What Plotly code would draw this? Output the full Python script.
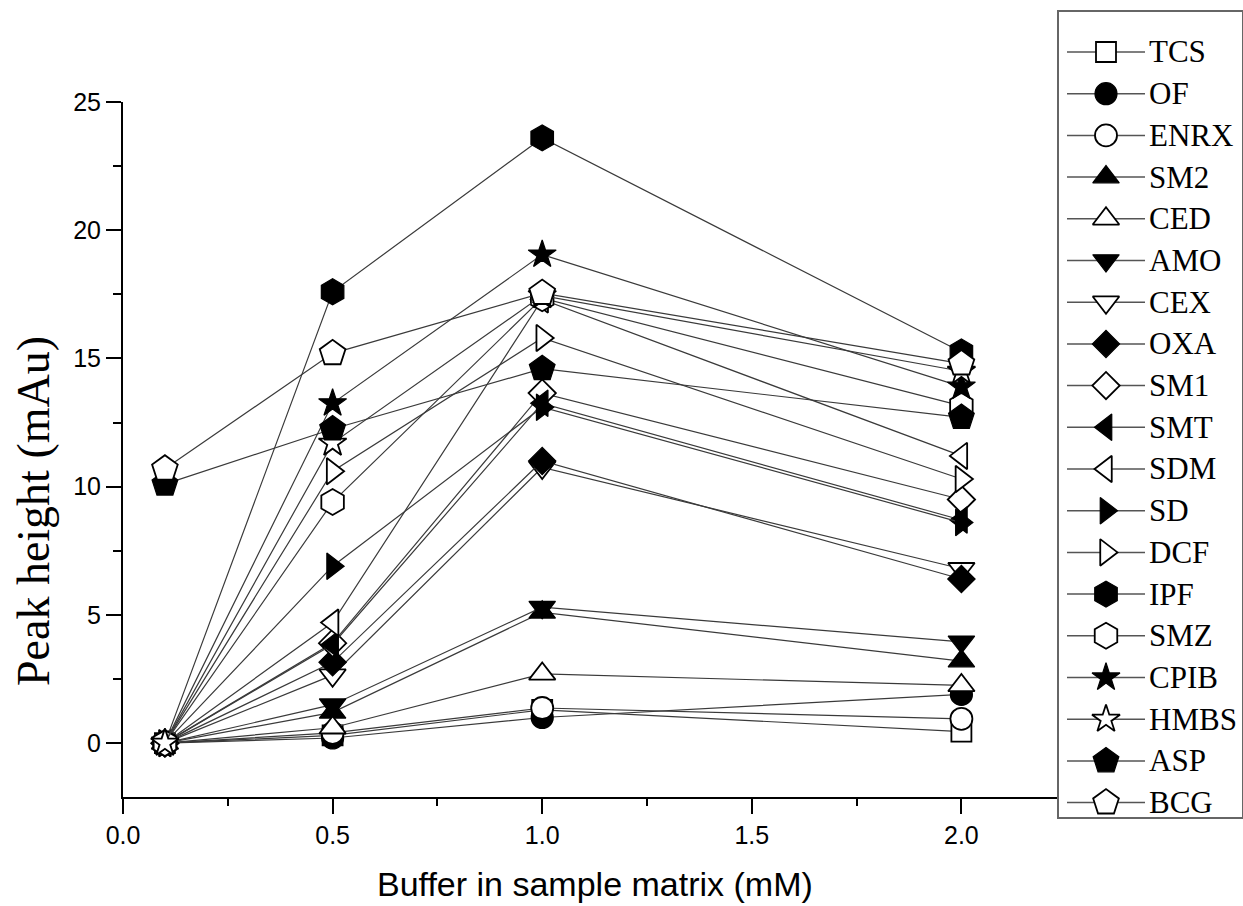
import plotly.graph_objects as go

# ---------------- data ----------------
buffer_mM = [0.1, 0.5, 1.0, 2.0]

series_names = ["TCS", "OF", "ENRX", "SM2", "CED", "AMO", "CEX", "OXA", "SM1",
                "SMT", "SDM", "SD", "DCF", "IPF", "SMZ", "CPIB", "HMBS", "ASP", "BCG"]

TCS = [0.0, 0.30, 1.30, 0.45]
OF = [0.0, 0.20, 1.00, 1.90]
ENRX = [0.0, 0.40, 1.37, 0.95]
SM2 = [0.0, 1.20, 5.10, 3.20]
CED = [0.0, 0.60, 2.70, 2.25]
AMO = [0.0, 1.50, 5.30, 3.95]
CEX = [0.0, 2.65, 10.75, 6.80]
OXA = [0.0, 3.15, 11.00, 6.40]
SM1 = [0.0, 3.90, 13.65, 9.50]
SMT = [0.0, 3.85, 13.25, 8.70]
SDM = [0.0, 4.70, 17.30, 11.20]
SD = [0.0, 6.90, 13.10, 8.60]
DCF = [0.0, 10.60, 15.80, 10.30]
IPF = [0.0, 17.60, 23.60, 15.25]
SMZ = [0.0, 9.40, 17.35, 13.15]
CPIB = [0.0, 13.25, 19.05, 13.90]
HMBS = [0.0, 11.70, 17.45, 14.50]
ASP = [10.10, 12.25, 14.60, 12.70]
BCG = [10.70, 15.20, 17.55, 14.80]

series_values = [TCS, OF, ENRX, SM2, CED, AMO, CEX, OXA, SM1,
                 SMT, SDM, SD, DCF, IPF, SMZ, CPIB, HMBS, ASP, BCG]

x_tick_vals = [0.0, 0.5, 1.0, 1.5, 2.0]
x_tick_text = ["0.0", "0.5", "1.0", "1.5", "2.0"]
y_tick_vals = [0, 5, 10, 15, 20, 25]
y_tick_text = ["0", "5", "10", "15", "20", "25"]

x_title = "Buffer in sample matrix (mM)"
y_title = "Peak height (mAu)"

# ---------------- styles ----------------
symbols = ["square", "circle", "circle", "triangle-up", "triangle-up",
           "triangle-down", "triangle-down", "diamond", "diamond",
           "triangle-left", "triangle-left", "triangle-right", "triangle-right",
           "hexagon", "hexagon", "star", "star", "pentagon", "pentagon"]
filled = [False, True, False, True, False, True, False, True, False,
          True, False, True, False, True, False, True, False, True, False]
size_by_symbol = {"square": 20, "circle": 22, "triangle-up": 23, "triangle-down": 23,
                  "triangle-left": 23, "triangle-right": 23, "diamond": 21,
                  "hexagon": 26, "pentagon": 27, "star": 21}

LINE_COLOR = "#3a3a3a"
SERIF = "Liberation Serif, Times New Roman, serif"
SANS = "Liberation Sans, Arial, sans-serif"

W, H = 1243, 906
PLOT_L, PLOT_R, PLOT_T, PLOT_B = 123, 1057, 102, 797
LEG_L, LEG_R, LEG_T, LEG_B = 1059, 1242, 12, 817
LEG_FIRST, LEG_STEP = 52, 41.7


def marker_style(i):
    sym = symbols[i]
    return dict(symbol=sym, size=size_by_symbol[sym],
                color="black" if filled[i] else "white",
                line=dict(color="black", width=1.2 if filled[i] else 1.8))


fig = go.Figure()

for i, name in enumerate(series_names):
    fig.add_trace(go.Scatter(
        x=buffer_mM, y=series_values[i], name=name, mode="lines+markers",
        line=dict(color=LINE_COLOR, width=1.2),
        marker=marker_style(i), showlegend=False,
        xaxis="x", yaxis="y"))

# ---------------- custom legend (separate axes) ----------------
for i, name in enumerate(series_names):
    fig.add_trace(go.Scatter(
        x=[8, 86], y=[i, i], mode="lines",
        line=dict(color="#555555", width=1.5),
        showlegend=False, hoverinfo="skip", xaxis="x2", yaxis="y2"))
    fig.add_trace(go.Scatter(
        x=[47], y=[i], mode="markers", marker=marker_style(i),
        showlegend=False, hoverinfo="skip", xaxis="x2", yaxis="y2"))
    fig.add_annotation(x=88, y=i, xref="x2", yref="y2", text=name,
                       showarrow=False, xanchor="left", yanchor="middle",
                       font=dict(family=SERIF, size=31, color="black"))

# axis titles
fig.add_annotation(x=595 / W, y=1 - 884 / H, xref="paper", yref="paper",
                   text=x_title, showarrow=False, xanchor="center", yanchor="middle",
                   font=dict(family=SANS, size=34, color="black"))
fig.add_annotation(x=33 / W, y=1 - 511 / H, xref="paper", yref="paper",
                   text=y_title, showarrow=False, textangle=-90,
                   xanchor="center", yanchor="middle",
                   font=dict(family=SERIF, size=46, color="black"))

leg_y_top = (LEG_T - LEG_FIRST) / LEG_STEP
leg_y_bot = (LEG_B - LEG_FIRST) / LEG_STEP

fig.update_layout(
    width=W, height=H,
    margin=dict(l=0, r=0, t=0, b=0),
    paper_bgcolor="white", plot_bgcolor="white",
    showlegend=False,
    xaxis=dict(
        domain=[PLOT_L / W, PLOT_R / W], range=[0, (PLOT_R - PLOT_L) / 419.2],
        tickvals=x_tick_vals, ticktext=x_tick_text,
        showline=True, linecolor="black", linewidth=2,
        ticks="outside", ticklen=15, tickwidth=2, tickcolor="black",
        minor=dict(dtick=0.25, ticks="outside", ticklen=7, tickwidth=2, tickcolor="black"),
        showgrid=False, zeroline=False,
        tickfont=dict(family=SANS, size=25, color="black"),
        automargin=False,
    ),
    yaxis=dict(
        domain=[(H - PLOT_B) / H, (H - PLOT_T) / H], range=[-2.1, 25],
        tickvals=y_tick_vals, ticktext=y_tick_text,
        showline=True, linecolor="black", linewidth=2,
        ticks="outside", ticklen=15, tickwidth=2, tickcolor="black",
        minor=dict(dtick=2.5, ticks="outside", ticklen=8, tickwidth=2, tickcolor="black"),
        showgrid=False, zeroline=False,
        tickfont=dict(family=SANS, size=25, color="black"),
        automargin=False,
    ),
    xaxis2=dict(
        domain=[LEG_L / W, LEG_R / W], range=[0, LEG_R - LEG_L],
        showline=True, mirror=True, linecolor="#666666", linewidth=1.5,
        showticklabels=False, ticks="", showgrid=False, zeroline=False,
        anchor="y2", fixedrange=True,
    ),
    yaxis2=dict(
        domain=[(H - LEG_B) / H, (H - LEG_T) / H], range=[leg_y_bot, leg_y_top],
        showline=True, mirror=True, linecolor="#666666", linewidth=1.5,
        showticklabels=False, ticks="", showgrid=False, zeroline=False,
        anchor="x2", fixedrange=True,
    ),
)

fig.write_html("out.html", config={"displayModeBar": False},
               post_script="document.body.style.margin='0';document.body.style.overflow='hidden';")
